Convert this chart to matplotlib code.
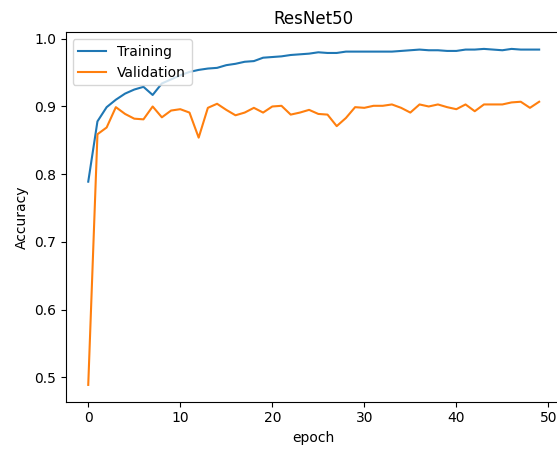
import matplotlib
matplotlib.use("Agg")
import matplotlib.pyplot as plt

epochs = list(range(50))
training = [0.789, 0.878, 0.899, 0.910, 0.919, 0.925, 0.929, 0.917, 0.934, 0.940,
            0.946, 0.951, 0.954, 0.956, 0.957, 0.961, 0.963, 0.966, 0.967, 0.972,
            0.973, 0.974, 0.976, 0.977, 0.978, 0.980, 0.979, 0.979, 0.981, 0.981,
            0.981, 0.981, 0.981, 0.981, 0.982, 0.983, 0.984, 0.983, 0.983, 0.982,
            0.982, 0.984, 0.984, 0.985, 0.984, 0.983, 0.985, 0.984, 0.984, 0.984]
validation = [0.489, 0.859, 0.869, 0.899, 0.889, 0.882, 0.881, 0.900, 0.884, 0.894,
              0.896, 0.891, 0.854, 0.898, 0.904, 0.895, 0.887, 0.891, 0.898, 0.891,
              0.900, 0.901, 0.888, 0.891, 0.895, 0.889, 0.888, 0.871, 0.883, 0.899,
              0.898, 0.901, 0.901, 0.903, 0.898, 0.891, 0.903, 0.900, 0.903, 0.899,
              0.896, 0.903, 0.893, 0.903, 0.903, 0.903, 0.906, 0.907, 0.898, 0.907]

fig = plt.figure(figsize=(5.57, 4.51), dpi=100)
ax = fig.add_axes([65.7 / 557, 49.3 / 451, 496 / 557, 369.6 / 451])
ax.plot(epochs, training, label="Training")
ax.plot(epochs, validation, label="Validation")
ax.set_title("ResNet50")
ax.set_xlabel("epoch")
ax.set_ylabel("Accuracy")
ax.legend(loc="upper left")
fig.savefig("out.png", dpi=100)
